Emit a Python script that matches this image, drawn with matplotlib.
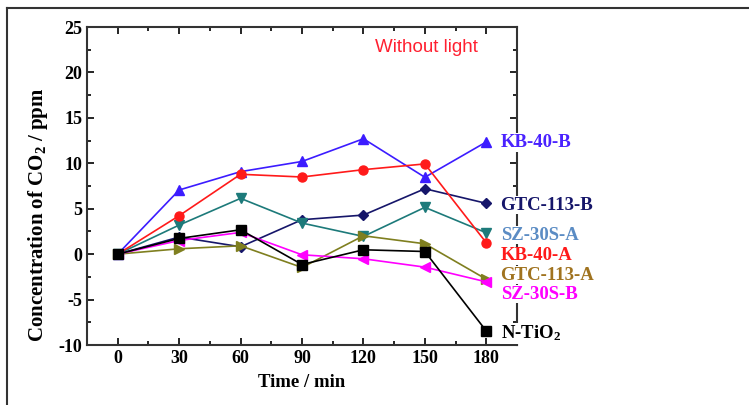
import matplotlib.pyplot as plt
from matplotlib.lines import Line2D
from matplotlib.ticker import MultipleLocator

time = [0, 30, 60, 90, 120, 150, 180]

kb40b = [0, 7.06, 9.08, 10.2, 12.7, 8.46, 12.35]
kb40a = [0, 4.23, 8.79, 8.49, 9.3, 9.93, 1.25]
gtc113b = [0, 1.88, 0.81, 3.79, 4.3, 7.2, 5.59]
sz30sa = [0, 3.2, 6.14, 3.42, 1.95, 5.15, 2.35]
ntio2 = [0, 1.73, 2.68, -1.14, 0.48, 0.29, -8.46]
gtc113a = [0, 0.59, 0.92, -1.47, 2.02, 1.14, -2.76]
sz30sb = [0, 1.5, 2.39, -0.07, -0.51, -1.43, -3.05]

# name, data, marker, line colour, label colour, label y (data units)
series = [
    ("KB-40-B", kb40b, "^", "#3c1cff", "#4a22ff", 12.3),
    ("GTC-113-B", gtc113b, "D", "#16166a", "#16166a", 5.4),
    ("SZ-30S-A", sz30sa, "v", "#1d7a7a", "#5b8cc4", 2.1),
    ("KB-40-A", kb40a, "o", "#ff1a1a", "#ff1a1a", -0.2),
    ("GTC-113-A", gtc113a, ">", "#7f7f1f", "#a0731f", -2.3),
    ("SZ-30S-B", sz30sb, "<", "#ff00ff", "#ff00ff", -4.4),
    ("N-TiO$_2$", ntio2, "s", "#000000", "#000000", -8.7),
]

plt.rcParams["font.family"] = "Liberation Serif"
plt.rcParams["axes.unicode_minus"] = False
plt.rcParams["mathtext.fontset"] = "custom"
plt.rcParams["mathtext.rm"] = "Liberation Serif:bold"
plt.rcParams["mathtext.it"] = "Liberation Serif:bold"

fig = plt.figure(figsize=(7.49, 4.05), dpi=100)
ax = fig.add_axes([87 / 749, 1 - 345 / 405, 430 / 749, 318 / 405])

for name, vals, mk, col, tcol, ly in series:
    ms = 5.5 if mk == "D" else 6.5
    ax.plot(time, vals, color=col, marker=mk, markersize=ms, linewidth=1.2)
    ax.text(187, ly, name, color=tcol, fontsize=13.5, fontweight="bold",
            va="center", ha="left", clip_on=False, zorder=5,
            bbox=dict(facecolor="white", edgecolor="none", pad=0.5))

ax.set_xlim(-15, 195)
ax.set_ylim(-10, 25)
ax.set_xticks(time)
ax.xaxis.set_minor_locator(MultipleLocator(15))
ax.yaxis.set_major_locator(MultipleLocator(5))
ax.yaxis.set_minor_locator(MultipleLocator(2.5))
ax.tick_params(which="both", direction="in", top=True, right=True,
               labelsize=13, width=1.2)
ax.tick_params(which="major", length=5)
ax.tick_params(which="minor", length=3)
for lbl in ax.get_xticklabels() + ax.get_yticklabels():
    lbl.set_fontweight("bold")
for sp in ax.spines.values():
    sp.set_linewidth(1.5)
    sp.set_color("#333333")

ax.set_xlabel("Time / min", fontsize=13.5, fontweight="bold", labelpad=5)
ax.set_ylabel("Concentration of CO$_2$ / ppm", fontsize=15,
              fontweight="bold")
ax.yaxis.set_label_coords(-0.085, 0.41)

ax.text(0.67, 0.935, "Without light", transform=ax.transAxes, color="#ff2030",
        fontsize=13.5, family="Liberation Sans", ha="left", va="center")

# outer frame around the figure
fig.add_artist(Line2D([7 / 749, 7 / 749], [0, 1 - 8 / 405], color="#333333",
                      linewidth=1.5))
fig.add_artist(Line2D([7 / 749, 1.01], [1 - 8 / 405, 1 - 8 / 405],
                      color="#333333", linewidth=1.5))

fig.savefig("out.png", dpi=100)
